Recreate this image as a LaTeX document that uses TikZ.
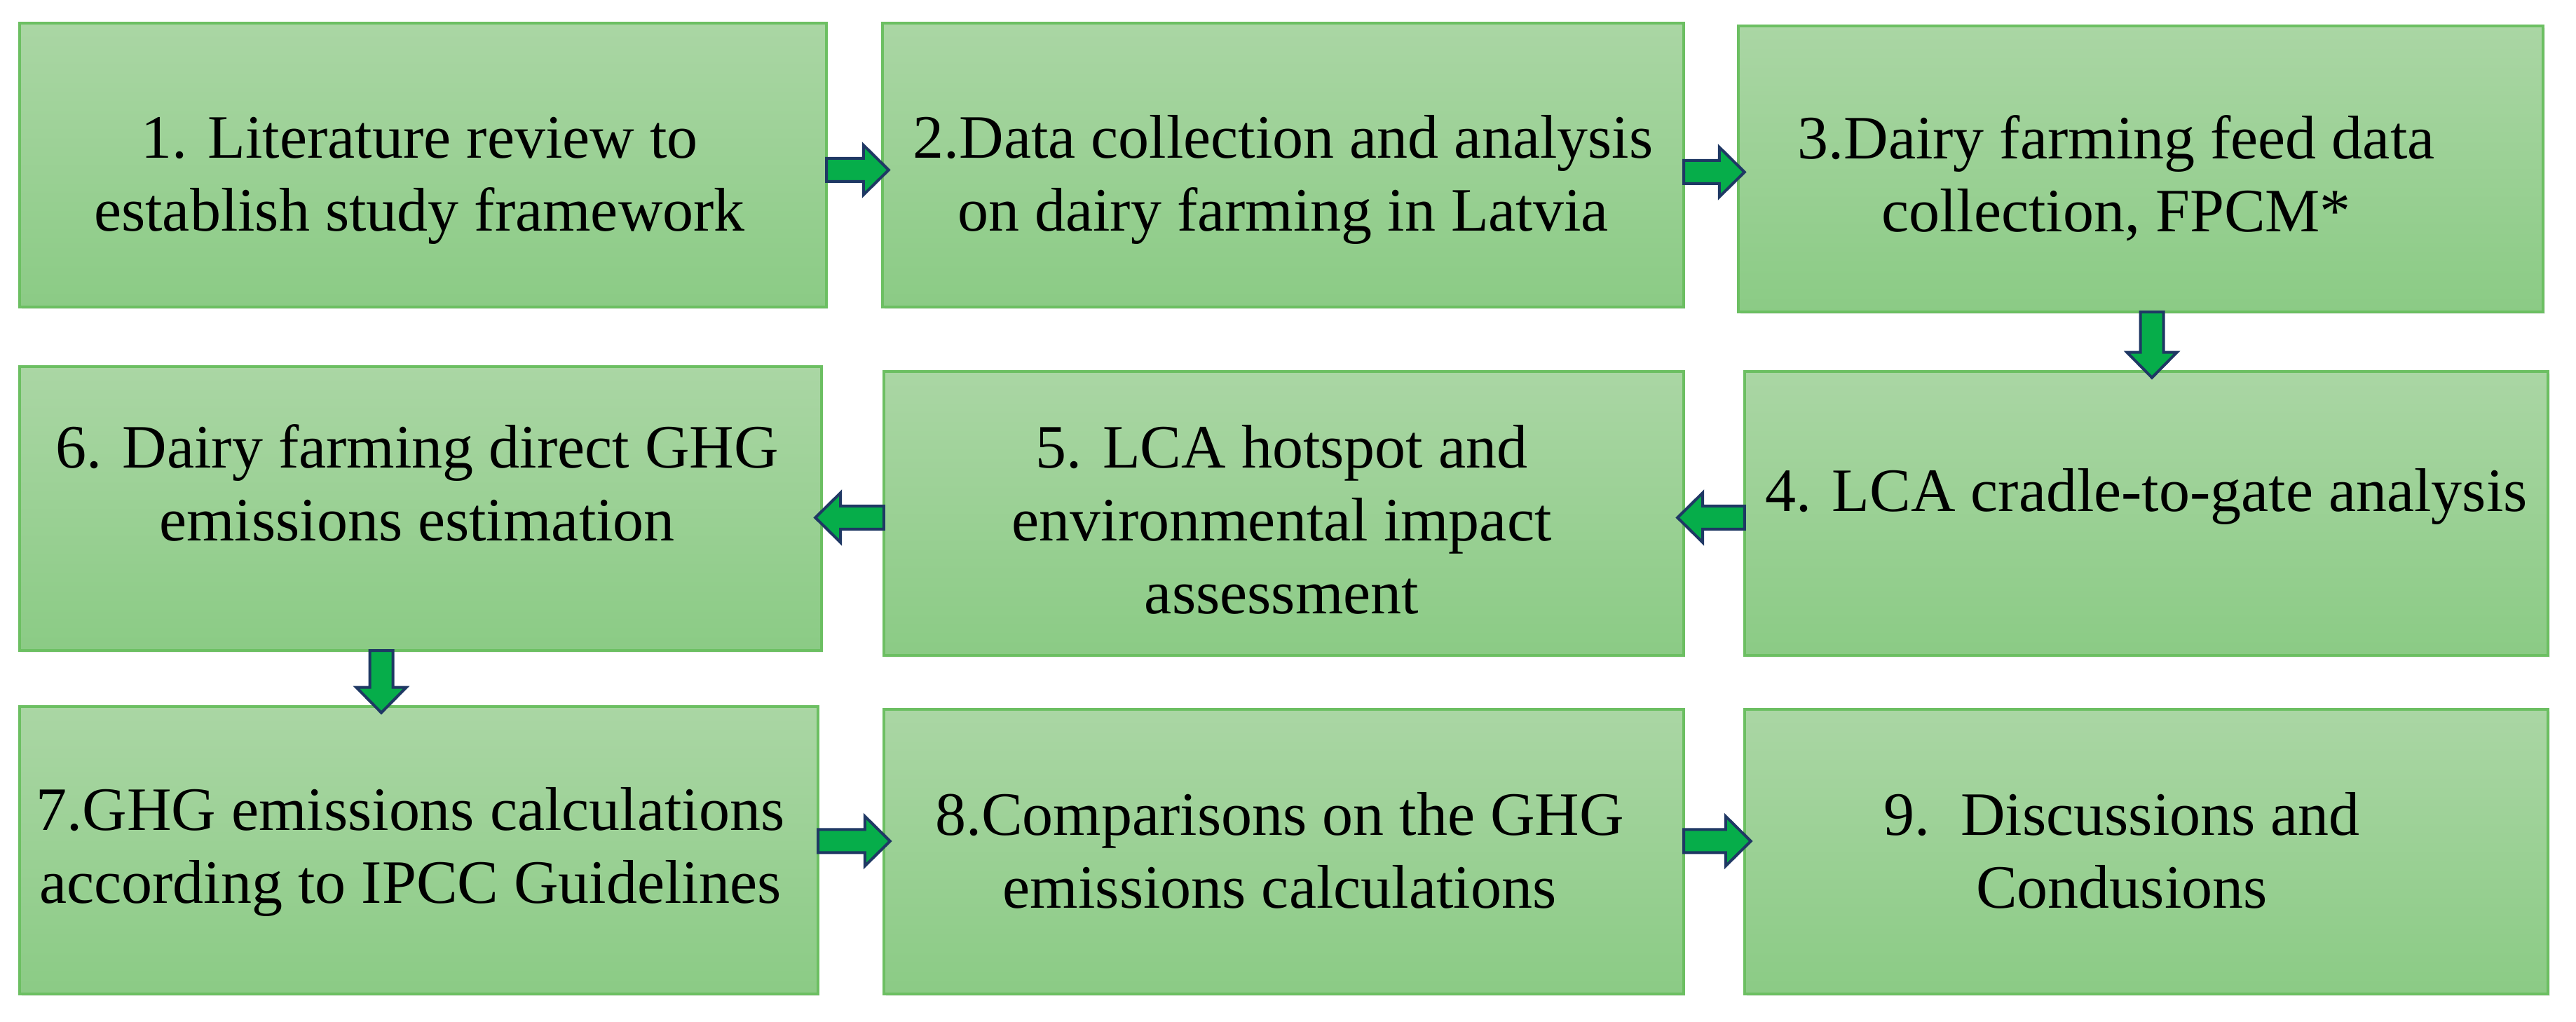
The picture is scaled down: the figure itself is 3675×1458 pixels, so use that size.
\documentclass[tikz,border=0pt]{standalone}
\usepackage{fontspec}
\setmainfont{Liberation Serif}
\usetikzlibrary{calc,shadows}
\definecolor{boxtop}{HTML}{AAD6A4}
\definecolor{boxbot}{HTML}{8BCB85}
\definecolor{boxline}{HTML}{6CBF62}
\definecolor{arrfill}{HTML}{06AD4A}
\definecolor{arrline}{HTML}{1F3864}
\tikzset{
  stepbox/.style={rectangle, draw=boxline, line width=0.45pt, top color=boxtop, bottom color=boxbot, inner sep=0pt,
    drop shadow={opacity=0.12, shadow xshift=0.25pt, shadow yshift=-0.35pt}},
  boxtext/.style={align=center, font=\fontsize{8.8}{10.4}\selectfont, text=black, inner sep=0pt},
  blockarr/.style={draw=arrline, fill=arrfill, line width=0.4pt, line join=miter}
}
\newcommand\blockarrow[2]{%
  \path[blockarr] let \p1=(#1), \p2=(#2), \n1={atan2(\y2-\y1,\x2-\x1)}, \n2={veclen(\x2-\x1,\y2-\y1)} in
  [shift={(\p1)}, rotate=\n1]
  (0pt,-1.65pt) -- (\n2-3.6pt,-1.65pt) -- (\n2-3.6pt,-3.55pt) -- (\n2,0pt) -- (\n2-3.6pt,3.55pt) -- (\n2-3.6pt,1.65pt) -- (0pt,1.65pt) -- cycle;%
}
\begin{document}
\begin{tikzpicture}[x=0.1pt,y=-0.1pt]
\useasboundingbox (0,0) rectangle (3675,1458);
% boxes
\node[stepbox, minimum width=115.1pt, minimum height=40.5pt] (b1) at (603.5,235.5) {};
\node[stepbox, minimum width=114.3pt, minimum height=40.5pt] (b2) at (1830.5,235.5) {};
\node[stepbox, minimum width=114.8pt, minimum height=40.8pt] (b3) at (3054,241) {};
\node[stepbox, minimum width=114.6pt, minimum height=40.5pt] (b4) at (3062,732.5) {};
\node[stepbox, minimum width=114.1pt, minimum height=40.5pt] (b5) at (1831.5,732.5) {};
\node[stepbox, minimum width=114.4pt, minimum height=40.5pt] (b6) at (600,725.5) {};
\node[stepbox, minimum width=113.9pt, minimum height=41.0pt] (b7) at (597.5,1213) {};
\node[stepbox, minimum width=114.1pt, minimum height=40.6pt] (b8) at (1831.5,1215) {};
\node[stepbox, minimum width=114.6pt, minimum height=40.6pt] (b9) at (3062,1215) {};
% texts
\node[boxtext] (t1) at ($(b1.center)+(-5,22)$) {1. Literature review to\\establish study framework};
\node[boxtext] (t2) at ($(b2.center)+(0,21)$) {2.Data collection and analysis\\on dairy farming in Latvia};
\node[boxtext] (t3) at ($(b3.center)+(-35,13)$) {3.Dairy farming feed data\\collection, FPCM*};
\node[boxtext] (t4) at ($(b4.center)+(0,-24)$) {4. LCA cradle-to-gate analysis};
\node[boxtext] (t5) at ($(b5.center)+(-3,9)$) {5. LCA hotspot and\\environmental impact\\assessment};
\node[boxtext] (t6) at ($(b6.center)+(-5,-37)$) {6. Dairy farming direct GHG\\emissions estimation};
\node[boxtext] (t7) at ($(b7.center)+(-12,2)$) {7.GHG emissions calculations\\according to IPCC Guidelines};
\node[boxtext] (t8) at ($(b8.center)+(-6,-2)$) {8.Comparisons on the GHG\\emissions calculations};
\node[boxtext] (t9) at ($(b9.center)+(-35,-2)$) {9.\ \ Discussions and\\Condusions};
% arrow end points
\coordinate (a12s) at ($(b1.east)+(-2,7)$);
\coordinate (a12e) at ($(b2.west |- a12s)+(11,0)$);
\coordinate (a23s) at ($(b2.east)+(-2,10)$);
\coordinate (a23e) at ($(b3.west |- a23s)+(11,0)$);
\coordinate (a34s) at ($(b3.south)+(16,-2)$);
\coordinate (a34e) at ($(b4.north -| a34s)+(0,11)$);
\coordinate (a45s) at ($(b4.west)+(2,6)$);
\coordinate (a45e) at ($(b5.east |- a45s)+(-11,0)$);
\coordinate (a56s) at ($(b5.west)+(2,6)$);
\coordinate (a56e) at ($(b6.east |- a56s)+(-11,0)$);
\coordinate (a67s) at ($(b6.south)+(-56,-2)$);
\coordinate (a67e) at ($(b7.north -| a67s)+(0,11)$);
\coordinate (a78s) at ($(b7.east)+(-2,-13)$);
\coordinate (a78e) at ($(b8.west |- a78s)+(11,0)$);
\coordinate (a89s) at ($(b8.east)+(-2,-15)$);
\coordinate (a89e) at ($(b9.west |- a89s)+(11,0)$);
\blockarrow{a12s}{a12e}
\blockarrow{a23s}{a23e}
\blockarrow{a34s}{a34e}
\blockarrow{a45s}{a45e}
\blockarrow{a56s}{a56e}
\blockarrow{a67s}{a67e}
\blockarrow{a78s}{a78e}
\blockarrow{a89s}{a89e}
\end{tikzpicture}
\end{document}
